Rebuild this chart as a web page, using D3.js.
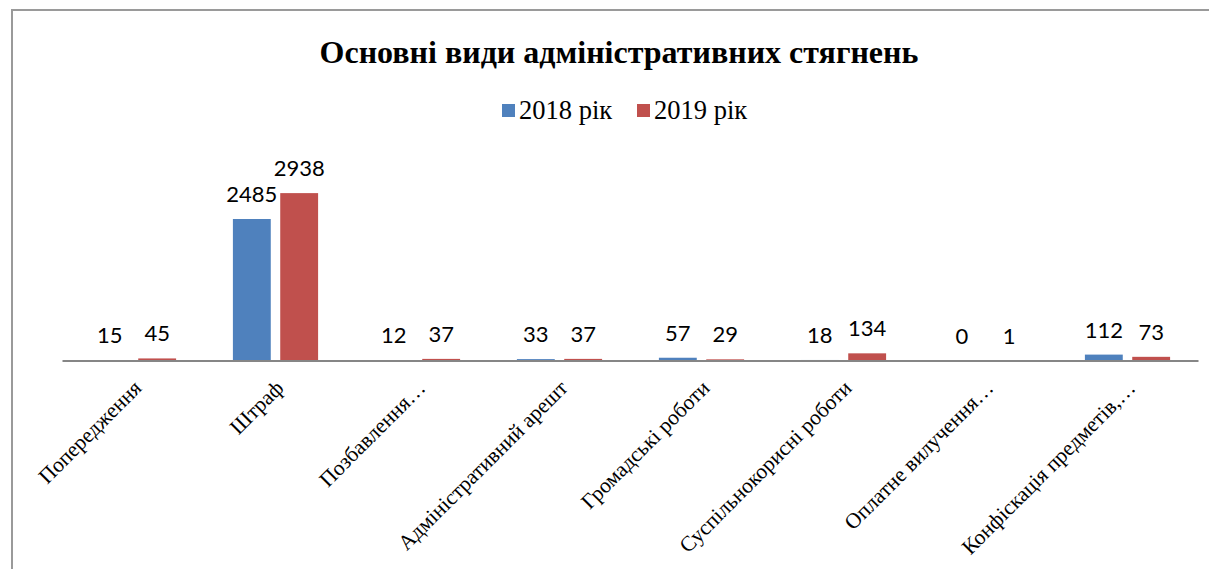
<!DOCTYPE html>
<html>
<head>
<meta charset="utf-8">
<script src="https://cdn.jsdelivr.net/npm/d3@7"></script>
<style>
  html, body { margin: 0; padding: 0; background: #fff; overflow: hidden; }
</style>
</head>
<body>
<div id="chart"></div>
<script>
const categories = [
    "Попередження",
    "Штраф",
    "Позбавлення…",
    "Адміністративний арешт",
    "Громадські роботи",
    "Суспільнокорисні  роботи",
    "Оплатне вилучення…",
    "Конфіскація предметів,…"
];
const seriesNames = ["2018 рік", "2019 рік"];
const values2018 = [15, 2485, 12, 33, 57, 18, 0, 112];
const values2019 = [45, 2938, 37, 37, 29, 134, 1, 73];
const seriesColors = ["#4F81BD", "#C0504D"];

const W = 1209, H = 569;
const baseY = 361;

const svg = d3.select("#chart").append("svg")
    .attr("width", W)
    .attr("height", H);

// Outer frame (only top and left visible, rest runs off the page)
svg.append("rect")
    .attr("x", 12)
    .attr("y", 10)
    .attr("width", W + 20)
    .attr("height", H + 20)
    .attr("fill", "none")
    .attr("stroke", "#9a9a9a")
    .attr("stroke-width", 2);

// Title
svg.append("text")
    .attr("x", 619)
    .attr("y", 63)
    .attr("text-anchor", "middle")
    .style("font-family", "'Liberation Serif', 'Times New Roman', serif")
    .style("font-weight", "bold")
    .style("font-size", "32px")
    .text("Основні види адміністративних стягнень");

// Legend
const legendX = [502, 637];
const legend = svg.append("g");
seriesNames.forEach((name, i) => {
    legend.append("rect")
        .attr("x", legendX[i])
        .attr("y", 104)
        .attr("width", 13)
        .attr("height", 13)
        .attr("fill", seriesColors[i]);
    legend.append("text")
        .attr("x", legendX[i] + 17)
        .attr("y", 119)
        .style("font-family", "'Liberation Serif', 'Times New Roman', serif")
        .style("font-size", "26.5px")
        .text(name);
});

const x0 = d3.scaleBand()
    .domain(categories)
    .range([62.5, 1198.5])
    .paddingInner(0.4)
    .paddingOuter(0.2);

const x1 = d3.scaleBand()
    .domain(seriesNames)
    .range([0, x0.bandwidth()])
    .paddingInner(0.2)
    .paddingOuter(0);

const y = d3.scaleLinear()
    .domain([0, 3500])
    .range([baseY, baseY - 200]);

const data = categories.map((c, i) => ({
    category: c,
    values: [values2018[i], values2019[i]]
}));

const groups = svg.selectAll(".group")
    .data(data)
    .join("g")
    .attr("class", "group")
    .attr("transform", d => `translate(${x0(d.category)},0)`);

groups.selectAll("rect")
    .data(d => d.values.map((v, i) => ({ series: seriesNames[i], value: v, idx: i })))
    .join("rect")
    .attr("x", d => x1(d.series))
    .attr("y", d => y(d.value))
    .attr("width", x1.bandwidth())
    .attr("height", d => baseY - y(d.value))
    .attr("fill", d => seriesColors[d.idx]);

groups.selectAll(".val")
    .data(d => d.values.map((v, i) => ({ series: seriesNames[i], value: v })))
    .join("text")
    .attr("class", "val")
    .attr("x", d => x1(d.series) + x1.bandwidth() / 2)
    .attr("y", d => y(d.value) - 17)
    .attr("text-anchor", "middle")
    .style("font-family", "Lato, 'Open Sans', sans-serif")
    .style("font-size", "22px")
    .style("fill", "#000")
    .text(d => d.value);

// Category axis
const axis = svg.append("g")
    .attr("transform", `translate(0,${baseY})`)
    .call(d3.axisBottom(x0).tickSize(0).tickPadding(0));

axis.select(".domain")
    .attr("d", `M62.5,0H1198.5`)
    .attr("stroke", "#868686")
    .attr("stroke-width", 2);

axis.selectAll(".tick text")
    .attr("text-anchor", "end")
    .attr("dy", "0.35em")
    .attr("transform", "translate(4,23) rotate(-45)")
    .style("font-family", "'Liberation Serif', 'Times New Roman', serif")
    .style("font-size", "21.5px")
    .style("fill", "#000");
</script>
</body>
</html>
